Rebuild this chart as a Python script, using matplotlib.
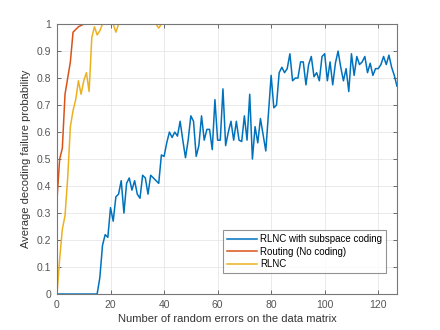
import numpy as np
import matplotlib
matplotlib.use("Agg")
import matplotlib.pyplot as plt

plt.rcParams['font.family'] = ['Liberation Sans', 'DejaVu Sans']

# number of random errors
errors = np.arange(0, 128)

# RLNC with subspace coding
subspace = [0.0] * 16 + [
    0.06, 0.18, 0.22, 0.21, 0.32, 0.27, 0.36, 0.37, 0.42, 0.30,
    0.41, 0.43, 0.385, 0.42, 0.37, 0.355, 0.44, 0.43, 0.37, 0.44,
    0.43, 0.42, 0.41, 0.515, 0.51, 0.56, 0.60, 0.58, 0.60, 0.585,
    0.64, 0.57, 0.505, 0.57, 0.66, 0.64, 0.51, 0.55, 0.66, 0.57,
    0.61, 0.61, 0.535, 0.72, 0.57, 0.57, 0.76, 0.55, 0.60, 0.64,
    0.57, 0.64, 0.57, 0.565, 0.66, 0.57, 0.74, 0.50, 0.62, 0.56,
    0.65, 0.59, 0.53, 0.67, 0.81, 0.69, 0.70, 0.82, 0.84, 0.82,
    0.835, 0.89, 0.79, 0.80, 0.80, 0.86, 0.86, 0.775, 0.85, 0.88,
    0.805, 0.82, 0.79, 0.88, 0.89, 0.79, 0.86, 0.775, 0.855, 0.90,
    0.84, 0.79, 0.835, 0.75, 0.89, 0.81, 0.88, 0.85, 0.86, 0.88,
    0.82, 0.855, 0.81, 0.835, 0.835, 0.85, 0.88, 0.85, 0.885, 0.84,
    0.81, 0.77]

# Routing (no coding)
routing = [0.35, 0.50, 0.54, 0.74, 0.80, 0.86, 0.97, 0.98, 0.99, 0.995] + [1.0] * 118

# RLNC
rlnc = [0.0, 0.13, 0.24, 0.29, 0.43, 0.62, 0.68, 0.72, 0.79, 0.74,
        0.79, 0.82, 0.75, 0.95, 0.99, 0.96, 0.975, 1.0] + [1.0] * 110
rlnc[22] = 0.97
rlnc[38] = 0.985

fig = plt.figure(figsize=(4.4, 3.3), dpi=100)
ax = fig.add_axes([0.1295, 0.109, 0.7727, 0.818])

ax.plot(errors, subspace, color='#0072BD', lw=1.1, label='RLNC with subspace coding')
ax.plot(errors, routing, color='#D95319', lw=1.1, label='Routing (No coding)')
ax.plot(errors, rlnc, color='#EDB120', lw=1.1, label='RLNC')

ax.set_xlim(0, 127)
ax.set_ylim(0, 1)
ax.set_xticks(np.arange(0, 121, 20))
ax.set_yticks(np.arange(0, 1.01, 0.1))
ax.set_yticklabels(['0', '0.1', '0.2', '0.3', '0.4', '0.5', '0.6', '0.7', '0.8', '0.9', '1'])
ax.grid(True, color='#e6e6e6', lw=0.6)
ax.set_axisbelow(True)
ax.tick_params(direction='in', top=True, right=True, labelsize=7.5,
               colors='#555555', length=3, width=0.6, pad=4)
for s in ax.spines.values():
    s.set_color('#777777')
    s.set_linewidth(0.8)

ax.set_xlabel('Number of random errors on the data matrix', fontsize=8, color='#333333', labelpad=3)
ax.set_ylabel('Average decoding failure probability', fontsize=8, color='#333333', labelpad=4)

leg = ax.legend(loc='lower right', bbox_to_anchor=(0.967, 0.078), fontsize=7,
                frameon=True, fancybox=False, handlelength=3.1, handletextpad=0.3,
                labelspacing=0.25, borderpad=0.4, borderaxespad=0)
leg.get_frame().set_edgecolor('#777777')
leg.get_frame().set_linewidth(0.8)

fig.savefig('out.png', dpi=100)
